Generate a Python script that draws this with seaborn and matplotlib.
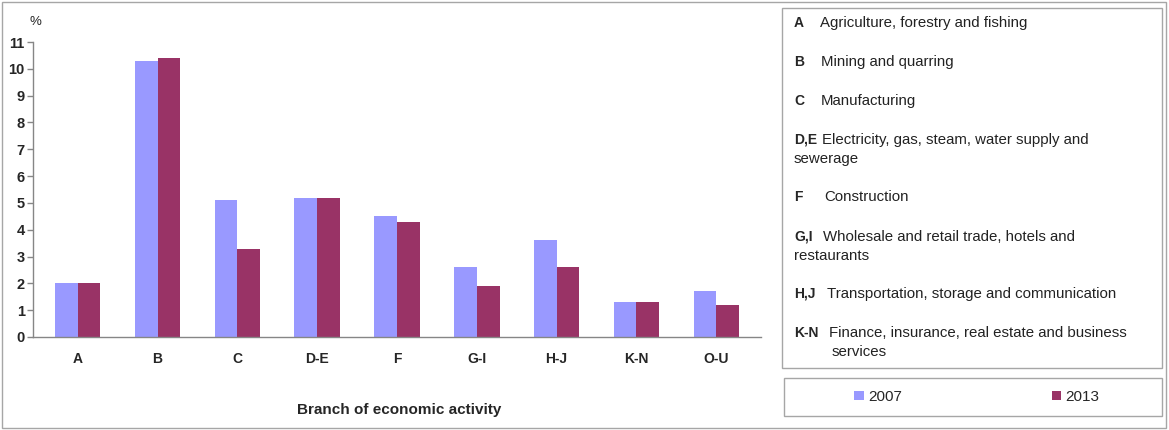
import numpy as np
import pandas as pd
import seaborn as sns
import matplotlib.pyplot as plt
from matplotlib.patches import Rectangle

branches = ["A", "B", "C", "D-E", "F", "G-I", "H-J", "K-N", "O-U"]
share_2007 = [2.0, 10.3, 5.1, 5.2, 4.5, 2.6, 3.6, 1.3, 1.7]
share_2013 = [2.0, 10.4, 3.3, 5.2, 4.3, 1.9, 2.6, 1.3, 1.2]
years = ["2007", "2013"]
colors = ["#9999FF", "#993366"]

key_codes = ["A", "B", "C", "D,E", "F", "G,I", "H,J", "K-N"]
key_text = [
    ["Agriculture, forestry and fishing"],
    ["Mining and quarring"],
    ["Manufacturing"],
    ["Electricity, gas, steam, water supply and", "sewerage"],
    ["Construction"],
    ["Wholesale and retail trade, hotels and", "restaurants"],
    ["Transportation, storage and communication"],
    ["Finance, insurance, real estate and business", "services"],
]

df = pd.DataFrame({
    "branch": branches * 2,
    "value": share_2007 + share_2013,
    "year": [years[0]] * len(branches) + [years[1]] * len(branches),
})

sns.set_style("white")
plt.rcParams["font.family"] = ["Liberation Sans", "DejaVu Sans"]

W, H = 1169, 430
def px(x, y):
    return x / W, 1 - y / H

fig = plt.figure(figsize=(W / 100, H / 100), dpi=100)
ax = fig.add_axes([33 / W, 1 - 337 / H, (761 - 33) / W, (337 - 42) / H])

sns.barplot(data=df, x="branch", y="value", hue="year", palette=colors,
            saturation=1, width=0.57, gap=0, linewidth=0, ax=ax)
handles, labels = ax.get_legend_handles_labels()
ax.get_legend().remove()

ax.set_ylim(0, 11)
ax.set_yticks(range(0, 12))
ax.set_xlim(-0.56, len(branches) - 0.44)
for side in ["top", "right"]:
    ax.spines[side].set_visible(False)
for side in ["left", "bottom"]:
    ax.spines[side].set_color("#868686")
    ax.spines[side].set_linewidth(1)
ax.tick_params(axis="y", which="major", left=True, length=4, width=1,
               color="#868686", labelsize=10.5, pad=2)
ax.tick_params(axis="x", bottom=False, labelsize=10, pad=7)
for lab in ax.get_xticklabels() + ax.get_yticklabels():
    lab.set_fontweight("bold")
ax.set_xlabel("")
ax.set_ylabel("")
fig.text(*px(399, 410), "Branch of economic activity", ha="center", va="center",
         fontsize=11, fontweight="bold")
fig.text(*px(30, 22), "%", ha="left", va="center", fontsize=9.5)

# outer frame
fig.patches.append(Rectangle(px(2, 428), (W - 5) / W, 426 / H, transform=fig.transFigure,
                             fill=False, edgecolor="#a6a6a6", linewidth=1))

# key box
fig.patches.append(Rectangle(px(782, 368), (1162 - 782) / W, (368 - 8) / H,
                             transform=fig.transFigure, fill=False,
                             edgecolor="#a6a6a6", linewidth=1))
fs = 10.8
row_y = [23, 62, 101, 140, 197, 237, 294, 333]
desc_x = [820, 821, 821, 822, 824, 823, 827, 829]
wrap_x = [794, 794, 794, 794, 794, 794, 794, 832]
for code, lines, y, dx, wx in zip(key_codes, key_text, row_y, desc_x, wrap_x):
    fig.text(*px(794, y), code, ha="left", va="center", fontsize=fs - 0.8,
             fontweight="bold")
    fig.text(*px(dx, y), lines[0], ha="left", va="center", fontsize=fs, color="#222222")
    if len(lines) > 1:
        fig.text(*px(wx, y + 19), lines[1], ha="left", va="center", fontsize=fs,
                 color="#222222")

# year legend box
fig.patches.append(Rectangle(px(784, 416), (1162 - 784) / W, (416 - 378) / H,
                             transform=fig.transFigure, fill=False,
                             edgecolor="#a6a6a6", linewidth=1))
fig.legend(handles, labels, loc="center", bbox_to_anchor=px(977, 397), ncol=2,
           frameon=False, fontsize=11, handlelength=0.6, handleheight=0.6,
           handletextpad=0.3, columnspacing=9.8)

fig.savefig("out.png", dpi=100)
